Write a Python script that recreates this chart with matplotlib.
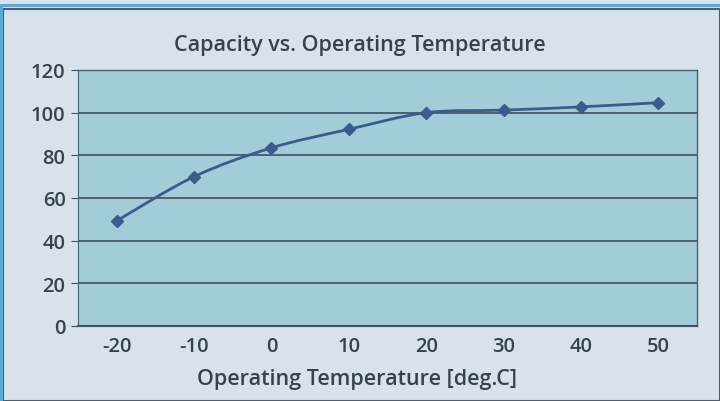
import matplotlib.pyplot as plt
import numpy as np
from matplotlib.path import Path
from matplotlib.patches import PathPatch, Rectangle

temps = ["-20", "-10", "0", "10", "20", "30", "40", "50"]
capacity = [49.3, 70, 83.5, 92.2, 100, 101.2, 102.7, 104.7]

TEXT = "#36424f"
LINE = "#3a5b8c"

fig = plt.figure(figsize=(7.2, 4.02), dpi=100, facecolor="#d9e2ea")
ax = fig.add_axes([78 / 720, 1 - 327 / 402, 619 / 720, 256 / 402])
ax.set_facecolor("#a3ccd9")

# outer frame of the chart
fig.patches.append(Rectangle((0.004, 0), 0.996, 1 - 10 / 402, transform=fig.transFigure,
                             fill=False, edgecolor="#4a5f70", lw=1.5))
fig.patches.append(Rectangle((0, 1 - 8 / 402), 1, 3 / 402, transform=fig.transFigure,
                             facecolor="#5aa9d6", edgecolor="none"))
fig.patches.append(Rectangle((0, 0), 3 / 720, 1 - 8 / 402, transform=fig.transFigure,
                             facecolor="#5aa9d6", edgecolor="none"))

x = np.arange(len(temps))
y = np.array(capacity)

# smoothed line like a spreadsheet "smooth line" (Catmull-Rom -> Bezier)
verts = [(x[0], y[0])]
codes = [Path.MOVETO]
for i in range(len(x) - 1):
    p0 = np.array([x[max(i - 1, 0)], y[max(i - 1, 0)]])
    p1 = np.array([x[i], y[i]])
    p2 = np.array([x[i + 1], y[i + 1]])
    p3 = np.array([x[min(i + 2, len(x) - 1)], y[min(i + 2, len(x) - 1)]])
    c1 = p1 + (p2 - p0) / 6
    c2 = p2 - (p3 - p1) / 6
    verts += [tuple(c1), tuple(c2), tuple(p2)]
    codes += [Path.CURVE4] * 3
ax.add_patch(PathPatch(Path(verts, codes), fill=False, edgecolor=LINE, lw=2, zorder=3))
ax.plot(x, y, linestyle="none", marker="D", ms=6, color=LINE, zorder=4)

ax.set_xlim(-0.5, len(temps) - 0.5)
ax.set_ylim(0, 120)
ax.set_yticks(range(0, 121, 20))
ax.set_xticks(x)
ax.set_xticklabels(temps)
ax.yaxis.grid(True, color="#3d5060", lw=1.2)
ax.set_axisbelow(True)

for side in ["top", "right"]:
    ax.spines[side].set_color("#4a5f70")
    ax.spines[side].set_linewidth(1)
ax.spines["left"].set_color("#4a5f70")
ax.spines["bottom"].set_color("#3d5060")
ax.spines["bottom"].set_linewidth(1.5)

ax.tick_params(axis="y", length=5, color="#3d5060", labelsize=14.5, labelcolor=TEXT, pad=4)
ax.tick_params(axis="x", length=0, labelsize=14.5, labelcolor=TEXT, pad=7)
for lbl in ax.get_xticklabels() + ax.get_yticklabels():
    lbl.set_family("Open Sans")
    lbl.set_fontweight("semibold")

ax.set_xlabel("Operating Temperature [deg.C]", fontsize=15.5, color=TEXT,
              family="Open Sans", fontweight="semibold")
ax.xaxis.set_label_coords((357 - 78) / 619, -0.165)
fig.text(0.5, 1 - 45 / 402, "Capacity vs. Operating Temperature", ha="center", va="center",
         fontsize=15.5, color=TEXT, family="Open Sans", fontweight="semibold")

plt.savefig("out.png", dpi=100, facecolor=fig.get_facecolor())
